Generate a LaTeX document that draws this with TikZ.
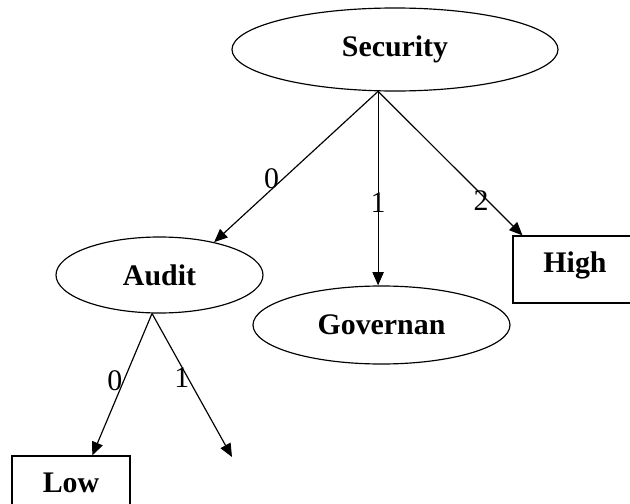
\documentclass[tikz,border=0pt]{standalone}
\usepackage{fontspec}
\setmainfont{Liberation Serif}
\usetikzlibrary{arrows.meta,shapes.geometric}

\begin{document}
\begin{tikzpicture}[%
        x = 0.03cm,
        y = -0.03cm,
        line width = 1pt,
        > = {Triangle[length = 0.4cm, width = 0.34cm]},
        every node/.style = {font = \fontsize{25.5}{30}\selectfont},
        attr/.style = {draw, ellipse, inner sep = 0pt,
            font = \fontsize{25.5}{30}\selectfont\bfseries},
        leaf/.style = {draw, rectangle, inner sep = 0pt,
            minimum height = 2.01cm, text height = 0.7cm, text depth = 0.5cm,
            font = \fontsize{25.5}{30}\selectfont\bfseries},
    ]

        % Fix the page and cut off what runs past it.
        \useasboundingbox (0, 0) rectangle (630, 504);
        \clip (0, 0) rectangle (630, 504);

        % The attribute nodes.
        \node (sec) at (395, 49.5) [attr, minimum width = 9.78cm, minimum height = 2.49cm] {Security};
        \node (aud) at (159.5, 275) [attr, minimum width = 6.21cm, minimum height = 2.28cm] {Audit};
        \node (gov) at (381.5, 325) [attr, minimum width = 7.71cm, minimum height = 2.34cm] {Governan};

        % The leaves.
        \node (high) at (575, 269.5) [leaf, minimum width = 3.72cm] {High};
        \node (low) at (71, 489.5) [leaf, minimum width = 3.54cm] {Low};

        % Where the branches leave Security, and the free end under Audit.
        \coordinate (secout) at (sec.248);
        \coordinate (aud1) at (232, 457);

        % Branches with their values.
        \begin{scope}[->]
            \draw (secout) to node [pos = 0.582, xshift = -0.33cm] {0} (aud.31);
            \draw (secout) to node [pos = 0.571] {1} (secout |- gov.north);
            \draw (secout) to node [pos = 0.76, xshift = -0.2cm] {2} (high.147);
            \draw (aud.259) to node [pos = 0.476, xshift = -0.26cm] {0} (low.58);
            \draw (aud.259) to node [pos = 0.444, xshift = -0.17cm] {1} (aud1);
        \end{scope}
    \end{tikzpicture}
\end{document}
